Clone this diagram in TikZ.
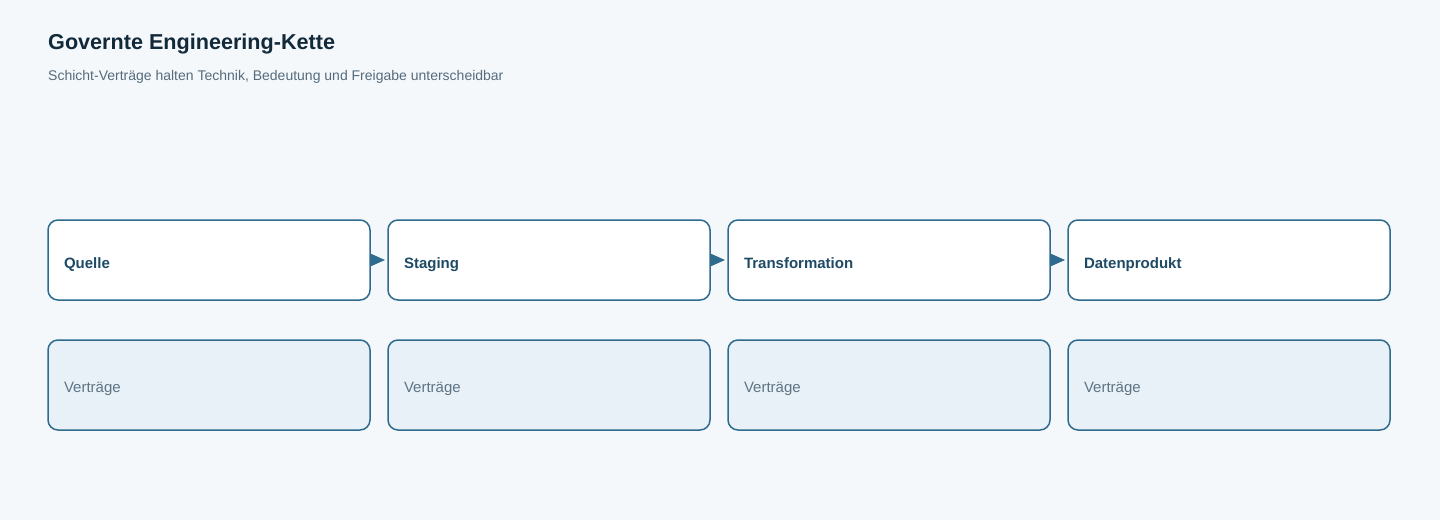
\documentclass[tikz,border=0pt]{standalone}
\usepackage{fontspec}
\setmainfont{Liberation Sans}
\usetikzlibrary{positioning,arrows.meta}
\definecolor{bgcol}{HTML}{F4F8FB}
\definecolor{edgecol}{HTML}{2F6B8E}
\definecolor{titlecol}{HTML}{12293A}
\definecolor{subcol}{HTML}{566B7C}
\definecolor{layercol}{HTML}{1E4A66}
\definecolor{contractfill}{HTML}{E8F1F8}
\definecolor{contractcol}{HTML}{5E7484}
\begin{document}
\begin{tikzpicture}[x=1pt,y=-1pt,
	layer/.style={draw=edgecol,line width=1.5pt,fill=white,rounded corners=10pt,outer sep=0pt,
		minimum width=322pt,minimum height=80pt,text width=290pt,inner xsep=16pt,
		text height=17pt,text depth=1pt,
		align=left,text=layercol,font=\fontsize{15}{18}\selectfont\bfseries},
	contract/.style={layer,fill=contractfill,minimum height=90pt,text=contractcol,
		text height=16pt,font=\fontsize{15}{18}\selectfont},
	flow/.style={draw=edgecol,line width=1.5pt,-{Triangle[length=14pt,width=12pt]},shorten >=3pt}
]
\fill[bgcol] (0,0) rectangle (1440,520);
% title
\node[anchor=base west,inner sep=0pt,text=titlecol,font=\fontsize{21.6}{26}\selectfont\bfseries] (title) at (48,49) {Governte Engineering-Kette};
\node[anchor=base west,inner sep=0pt,text=subcol,font=\fontsize{14}{17}\selectfont] (subtitle) at (48,80) {Schicht-Verträge halten Technik, Bedeutung und Freigabe unterscheidbar};
% layers
\node[layer,anchor=north west] (quelle) at (48,220) {Quelle};
\node[layer,right=18pt of quelle] (staging) {Staging};
\node[layer,right=18pt of staging] (trans) {Transformation};
\node[layer,right=18pt of trans] (produkt) {Datenprodukt};
% contracts
\foreach \n in {quelle,staging,trans,produkt}
	\node[contract,below=40pt of \n] (\n-v) {Verträge};
% flow
\draw[flow] (quelle) -- (staging);
\draw[flow] (staging) -- (trans);
\draw[flow] (trans) -- (produkt);
\end{tikzpicture}
\end{document}
